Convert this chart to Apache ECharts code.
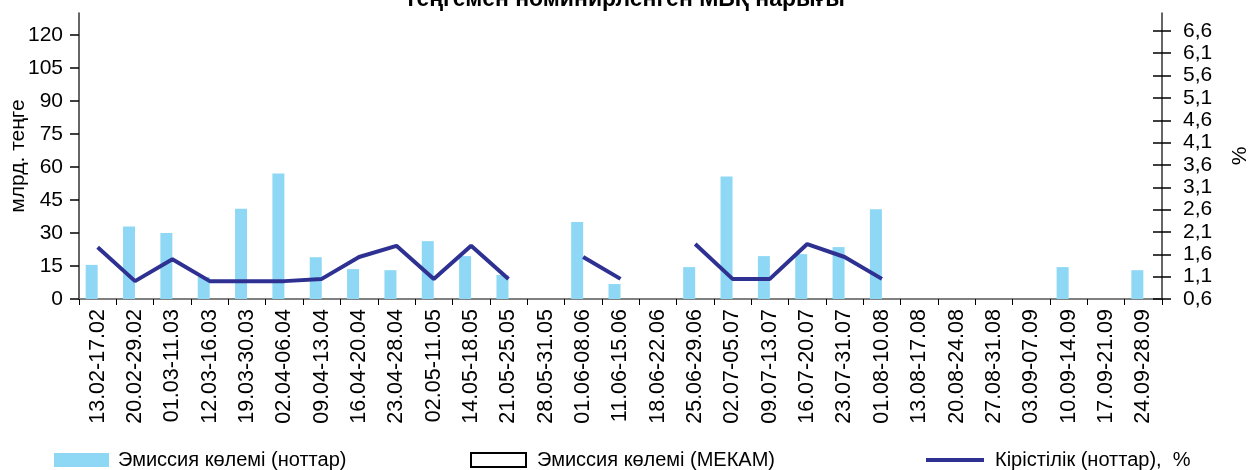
<!DOCTYPE html>
<html>
<head>
<meta charset="utf-8">
<script src="https://cdn.jsdelivr.net/npm/echarts@6/dist/echarts.min.js"></script>
<style>html,body{margin:0;padding:0;background:#fff}#c{width:1250px;height:470px}</style>
</head>
<body>
<div id="c"></div>
<script>
var titleText = 'теңгемен номинирленген МБҚ нарығы';
var categories = ['13.02-17.02','20.02-29.02','01.03-11.03','12.03-16.03','19.03-30.03','02.04-06.04','09.04-13.04','16.04-20.04','23.04-28.04','02.05-11.05','14.05-18.05','21.05-25.05','28.05-31.05','01.06-08.06','11.06-15.06','18.06-22.06','25.06-29.06','02.07-05.07','09.07-13.07','16.07-20.07','23.07-31.07','01.08-10.08','13.08-17.08','20.08-24.08','27.08-31.08','03.09-07.09','10.09-14.09','17.09-21.09','24.09-28.09'];
var notesVolume = [15.5,33,30,10,41,57,19,13.6,13.1,26.3,19.5,10.9,null,35,6.8,null,14.5,55.7,19.5,20.4,23.6,40.8,null,null,null,null,14.5,null,13.1];
var mekamVolume = [null,null,null,null,null,null,null,null,null,null,null,null,null,null,null,null,null,null,null,null,null,null,null,null,null,null,null,null,null];
var notesYield = [1.76,1.0,1.49,1.0,1.0,1.0,1.05,1.54,1.79,1.05,1.79,1.05,null,1.54,1.05,null,1.83,1.05,1.05,1.83,1.54,1.05,null,null,null,null,null,null,null];
var leftTicks = [0,15,30,45,60,75,90,105,120];
var rightTicks = [0.6,1.1,1.6,2.1,2.6,3.1,3.6,4.1,4.6,5.1,5.6,6.1,6.6];
var seriesNames = ['Эмиссия көлемі (ноттар)','Эмиссия көлемі (МЕКАМ)','Кірістілік (ноттар),  %'];

var FONT = '"Liberation Sans", Arial, sans-serif';
var chart = echarts.init(document.getElementById('c'), null, {renderer:'canvas'});
var legendText = {fontSize:20,color:'#000',fontFamily:FONT};
chart.setOption({
  animation:false,
  textStyle:{fontFamily:FONT},
  title:{text:titleText,left:'center',top:-17,textStyle:{fontSize:23,fontWeight:'bold',color:'#000',fontFamily:FONT}},
  legend:[
    {data:[{name:seriesNames[0],icon:'rect'}],left:54,top:450,padding:0,itemWidth:55,itemHeight:14,
     textStyle:Object.assign({padding:[0,0,0,4]},legendText)},
    {data:[{name:seriesNames[1],icon:'rect'}],left:470,top:450,padding:0,itemWidth:55,itemHeight:14,
     textStyle:Object.assign({padding:[0,0,0,6]},legendText)},
    {data:[{name:seriesNames[2],icon:'rect'}],left:926,top:450,padding:0,itemWidth:58,itemHeight:4,
     itemStyle:{color:'#2e3192',borderWidth:0},
     textStyle:Object.assign({padding:[0,0,0,6]},legendText)}
  ],
  grid:{left:79,right:88,top:13,bottom:171,containLabel:false,outerBoundsMode:'none'},
  xAxis:{type:'category',data:categories,boundaryGap:true,
    axisLine:{lineStyle:{color:'#808080',width:2}},
    axisTick:{show:true,interval:0,alignWithLabel:false,length:6,lineStyle:{color:'#000'}},
    axisLabel:{interval:0,rotate:90,fontSize:21.5,color:'#000',margin:10,fontFamily:FONT}},
  yAxis:[
    {type:'value',min:0,max:130,position:'left',name:'млрд. теңге',nameLocation:'middle',nameGap:50,nameMoveOverlap:false,
     nameTextStyle:{fontSize:21,color:'#000',fontFamily:FONT},
     splitLine:{show:false},
     axisLine:{show:true,lineStyle:{color:'#333',width:1.5}},
     axisTick:{show:true,length:9,customValues:leftTicks,lineStyle:{color:'#000',width:1.5}},
     axisLabel:{customValues:leftTicks,fontSize:21,color:'#000',margin:16,fontFamily:FONT}},
    {type:'value',min:0.6,max:7.0,position:'right',name:'%',nameLocation:'middle',nameGap:68,nameRotate:90,
     nameTextStyle:{fontSize:21,color:'#000',fontFamily:FONT},
     splitLine:{show:false},
     axisLine:{show:true,lineStyle:{color:'#333',width:1.5}},
     axisTick:{show:true,length:9,customValues:rightTicks,lineStyle:{color:'#000',width:1.5}},
     axisLabel:{customValues:rightTicks,fontSize:21,color:'#000',margin:21,fontFamily:FONT,
       formatter:function(v){return v.toFixed(1).replace('.',',');}}},
    {type:'value',min:0.6,max:7.0,position:'right',
     splitLine:{show:false},axisLine:{show:false},
     axisTick:{show:true,inside:true,length:9,customValues:rightTicks,lineStyle:{color:'#000',width:1.5}},
     axisLabel:{show:false}}
  ],
  series:[
    {name:seriesNames[0],type:'bar',yAxisIndex:0,data:notesVolume,barWidth:12,barGap:'0%',
     itemStyle:{color:'#8fd8f5'}},
    {name:seriesNames[1],type:'bar',yAxisIndex:0,data:mekamVolume,barWidth:12,barGap:'0%',
     itemStyle:{color:'#ffffff',borderColor:'#000',borderWidth:1}},
    {name:seriesNames[2],type:'line',yAxisIndex:1,data:notesYield,symbol:'none',connectNulls:false,
     lineStyle:{color:'#2e3192',width:4},itemStyle:{color:'#2e3192'}}
  ]
});
</script>
</body>
</html>
